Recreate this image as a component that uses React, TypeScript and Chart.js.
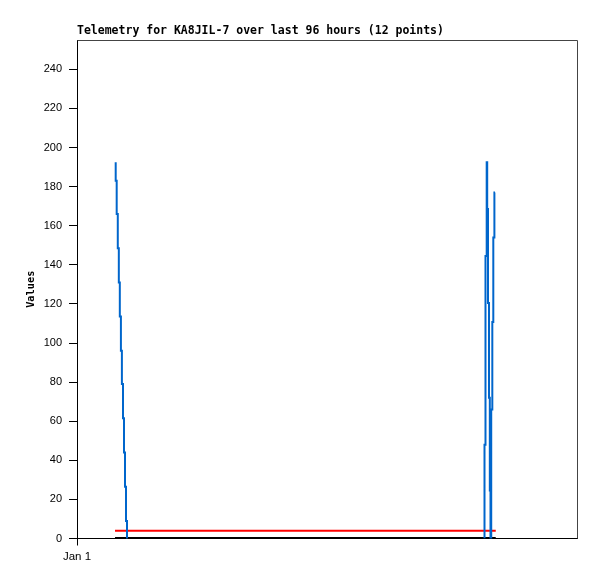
import React, { useEffect, useRef } from "react";
import { Chart, registerables } from "chart.js";

Chart.register(...registerables);

const TITLE = "Telemetry for KA8JIL-7 over last 96 hours (12 points)";
const Y_TITLE = "Values";

// x axis in hours since Jan 1 00:00
const X_MIN = 0;
const X_MAX = 96;
const xTickValues = [0];
const xTickLabels = ["Jan 1"];

const Y_MIN = 0;
const Y_MAX = 255;
const yTickValues = [0, 20, 40, 60, 80, 100, 120, 140, 160, 180, 200, 220, 240];

// blue telemetry channel (hours, values); null marks the gap between bursts
const blueHours = [
  7.43, 7.62, 7.83, 8.03, 8.22, 8.43, 8.62, 8.83, 9.02, 9.22, 9.41, 9.6, 9.7,
  40,
  78.24, 78.43, 78.66, 78.76, 78.91, 79.1, 79.26, 79.39, 79.53, 79.74, 79.93, 80.14, 80.26,
];
const blueValues = [
  192.5, 183, 166, 148.5, 131, 113.5, 96, 79, 61.5, 44, 26.5, 9, 0,
  null,
  0, 48, 144.5, 192.5, 168.5, 120.5, 72, 24.5, 0, 66, 110.8, 154, 177,
];

// constant channels
const flatHours = [7.3, 80.4];
const redValues = [4, 4];
const blackValues = [0, 0];

const boxPlugin = {
  id: "plotBox",
  afterDraw(chart: any) {
    const { ctx, chartArea } = chart;
    const { left, top, right, bottom } = chartArea;
    ctx.save();
    ctx.strokeStyle = "#444";
    ctx.lineWidth = 1;
    ctx.beginPath();
    ctx.moveTo(Math.round(left) + 0.5, Math.round(top) + 0.5);
    ctx.lineTo(Math.round(right) + 0.5, Math.round(top) + 0.5);
    ctx.lineTo(Math.round(right) + 0.5, Math.round(bottom) - 0.5);
    ctx.stroke();
    ctx.restore();
  },
};

export default function App() {
  const ref = useRef<HTMLCanvasElement | null>(null);

  useEffect(() => {
    if (!ref.current) return;
    const pts = (xs: number[], ys: (number | null)[]) =>
      xs.map((x, i) => ({ x, y: ys[i] }));

    const chart = new Chart(ref.current, {
      type: "line",
      data: {
        datasets: [
          {
            label: "blue",
            data: pts(blueHours, blueValues) as any,
            borderColor: "#0066cc",
            borderWidth: 2,
            pointRadius: 0,
            stepped: "after",
            spanGaps: false,
          },
          {
            label: "red",
            data: pts(flatHours, redValues) as any,
            borderColor: "#ff0000",
            borderWidth: 2,
            pointRadius: 0,
          },
          {
            label: "black",
            data: pts(flatHours, blackValues) as any,
            borderColor: "#000000",
            borderWidth: 3,
            pointRadius: 0,
          },
        ],
      },
      options: {
        animation: false,
        responsive: false,
        devicePixelRatio: 1,
        layout: { padding: { left: 0, right: 20, top: 0, bottom: 0 } },
        plugins: {
          legend: { display: false },
          tooltip: { enabled: false },
          title: {
            display: true,
            text: TITLE,
            align: "start",
            fullSize: false,
            color: "#000",
            font: { family: "'DejaVu Sans Mono'", size: 11.5, weight: "bold", lineHeight: 1.2 },
            padding: { top: 24.5, bottom: 1.7 },
          },
        },
        scales: {
          x: {
            type: "linear",
            min: X_MIN,
            max: X_MAX,
            afterBuildTicks: (scale: any) => {
              scale.ticks = xTickValues.map((v) => ({ value: v }));
            },
            afterFit: (scale: any) => {
              scale.height = 40.5;
            },
            ticks: {
              color: "#000",
              font: { family: "'Liberation Sans'", size: 11.5 },
              padding: 4,
              maxRotation: 0,
              autoSkip: false,
              callback: (_v: any, i: number) => xTickLabels[i],
            },
            grid: {
              display: true,
              drawOnChartArea: false,
              drawTicks: true,
              tickLength: 7,
              color: "#000",
            },
            border: { display: true, color: "#000", width: 1 },
          },
          y: {
            type: "linear",
            min: Y_MIN,
            max: Y_MAX,
            afterBuildTicks: (scale: any) => {
              scale.ticks = yTickValues.map((v) => ({ value: v }));
            },
            afterFit: (scale: any) => {
              scale.width = 77;
            },
            ticks: {
              color: "#000",
              font: { family: "'Liberation Sans'", size: 11 },
              padding: 7,
              autoSkip: false,
              callback: (v: any) => String(v),
            },
            grid: {
              display: true,
              drawOnChartArea: false,
              drawTicks: true,
              tickLength: 8,
              color: "#000",
            },
            border: { display: true, color: "#000", width: 1 },
            title: {
              display: true,
              text: Y_TITLE,
              color: "#000",
              font: { family: "'DejaVu Sans Mono'", size: 10.3, weight: "bold", lineHeight: 1.2 },
              padding: { top: 25, bottom: 0 },
            },
          },
        },
      },
      plugins: [boxPlugin],
    });
    return () => chart.destroy();
  }, []);

  return (
    <div style={{ position: "absolute", left: 0, top: 0, width: 597, height: 579, background: "#fff" }}>
      <canvas ref={ref} width={597} height={579} style={{ display: "block", width: 597, height: 579 }} />
    </div>
  );
}
